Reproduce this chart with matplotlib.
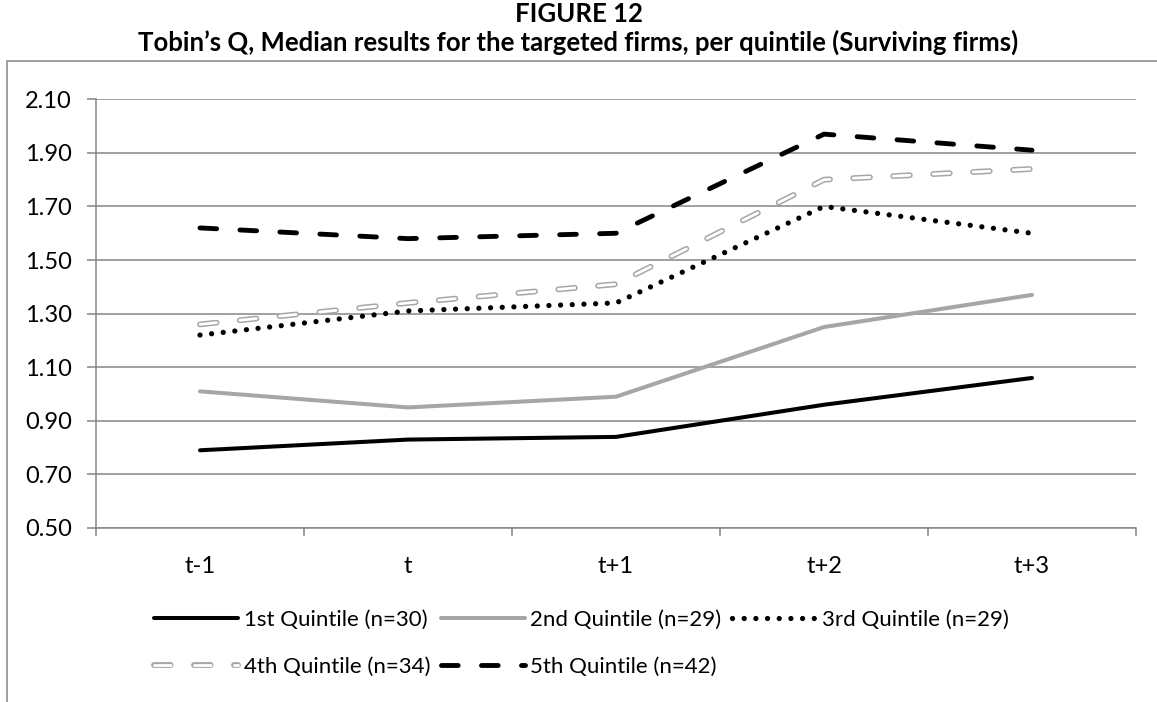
import numpy as np
import matplotlib
matplotlib.use('agg')
import matplotlib.pyplot as plt
from matplotlib.patches import Rectangle
from matplotlib.legend_handler import HandlerTuple

# Data

periods = ['t-1', 't', 't+1', 't+2', 't+3']
q1 = [0.79, 0.83, 0.84, 0.96, 1.06]
q2 = [1.01, 0.95, 0.99, 1.25, 1.37]
q3 = [1.22, 1.31, 1.34, 1.70, 1.60]
q4 = [1.26, 1.34, 1.41, 1.80, 1.84]
q5 = [1.62, 1.58, 1.60, 1.97, 1.91]
labels = ['1st Quintile (n=30)', '2nd Quintile (n=29)', '3rd Quintile (n=29)',
          '4th Quintile (n=34)', '5th Quintile (n=42)']
yticks = np.arange(0.5, 2.11, 0.2)

plt.rcParams['font.family'] = ['Lato', 'DejaVu Sans']
plt.rcParams['lines.scale_dashes'] = False

W, H = 1157, 702
GRID = '#868686'
LGRAY = '#a6a6a6'

fig = plt.figure(figsize=(W / 100, H / 100), dpi=100)
ax = fig.add_axes([96 / W, 1 - 528 / H, 1040 / W, (528 - 99.3) / H])

x = np.arange(len(periods))
dash = (0, (12.0, 16.8))

l1, = ax.plot(x, q1, color='black', lw=2.9, solid_capstyle='round', solid_joinstyle='round')
l2, = ax.plot(x, q2, color=LGRAY, lw=2.9, solid_capstyle='round', solid_joinstyle='round')
l3, = ax.plot(x, q3, color='black', lw=3.8, linestyle=(0, (0.01, 8.4)),
              dash_capstyle='round')
l4a, = ax.plot(x, q4, color=LGRAY, lw=4.2, linestyle=dash, dash_capstyle='round')
l4b, = ax.plot(x, q4, color='white', lw=2.0, linestyle=dash, dash_capstyle='round')
l5, = ax.plot(x, q5, color='black', lw=3.5, linestyle=dash, dash_capstyle='round')

# axes styling
ax.set_xlim(-0.5, len(periods) - 0.5)
ax.set_ylim(0.5, 2.1)
ax.set_yticks(yticks)
ax.set_yticklabels(['%.2f' % v for v in yticks])
ax.set_xticks(x)
ax.set_xticklabels(periods)
ax.set_xticks(np.arange(-0.5, len(periods)), minor=True)
ax.tick_params(axis='x', which='major', length=0, pad=20, labelsize=17)
ax.tick_params(axis='x', which='minor', length=6, width=1.1, color=GRID)
ax.tick_params(axis='y', length=6.5, width=1.1, color=GRID, pad=11, labelsize=17)
ax.grid(axis='y', color=GRID, lw=1.1)
ax.set_axisbelow(True)
for side in ['top', 'right']:
    ax.spines[side].set_visible(False)
for side in ['left', 'bottom']:
    ax.spines[side].set_color(GRID)
    ax.spines[side].set_linewidth(1.1)

# outer frame of the chart, cut at right and bottom
fig.patches.append(Rectangle((7 / W, -0.05), 1.1, 1 - 61 / H + 0.05, transform=fig.transFigure,
                             fill=False, edgecolor=GRID, lw=1.1))

fig.text(0.5, 1 - 14 / H, 'FIGURE 12', ha='center', va='center',
         fontsize=18.5, fontweight='bold')
fig.text(0.5, 1 - 42 / H,
         'Tobin\u2019s Q, Median results for the targeted firms, per quintile (Surviving firms)',
         ha='center', va='center', fontsize=18.5, fontweight='bold')

# legend fills column by column, so reorder to get rows 1-2-3 / 4-5
handles = [l1, (l4a, l4b), l2, l5, l3]
order = [0, 3, 1, 4, 2]
fig.legend(handles, [labels[i] for i in order], loc='upper left',
           bbox_to_anchor=(134 / W, 1 - 590 / H),
           ncol=3, frameon=False, fontsize=16, handlelength=3.8, handletextpad=0.25,
           columnspacing=0.45, labelspacing=1.2,
           handler_map={tuple: HandlerTuple(ndivide=1, pad=0)})

fig.savefig('out.png', dpi=100)
